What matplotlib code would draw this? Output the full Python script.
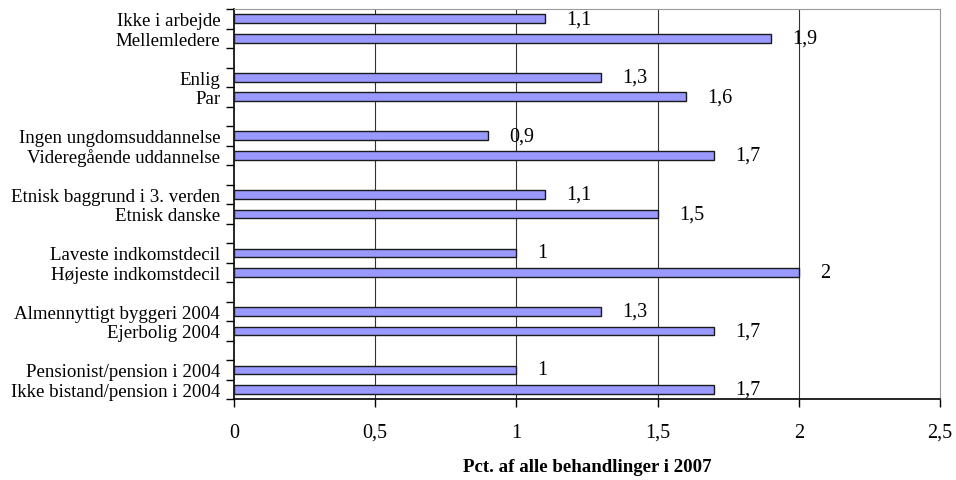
import numpy as np
import matplotlib.pyplot as plt

# top to bottom, pairs per group
categories = [
    ['Ikke i arbejde', 'Mellemledere'],
    ['Enlig', 'Par'],
    ['Ingen ungdomsuddannelse', 'Videregående uddannelse'],
    ['Etnisk baggrund i 3. verden', 'Etnisk danske'],
    ['Laveste indkomstdecil', 'Højeste indkomstdecil'],
    ['Almennyttigt byggeri 2004', 'Ejerbolig 2004'],
    ['Pensionist/pension i 2004', 'Ikke bistand/pension i 2004'],
]
values = [
    [1.1, 1.9],
    [1.3, 1.6],
    [0.9, 1.7],
    [1.1, 1.5],
    [1.0, 2.0],
    [1.3, 1.7],
    [1.0, 1.7],
]
xticks = [0, 0.5, 1, 1.5, 2, 2.5]
xlabel = 'Pct. af alle behandlinger i 2007'


def fmt(v):
    s = ('%.1f' % v).rstrip('0').rstrip('.')
    return s.replace('.', ',')


def main():
    plt.rcParams['font.family'] = ['Liberation Serif', 'DejaVu Serif']
    fig = plt.figure(figsize=(9.56, 4.81), dpi=100)
    ax = fig.add_axes([0.2448, 0.168, 0.7385, 0.811])

    labels, vals, pos = [], [], []
    slot = 0
    for g in range(len(categories)):
        for name, v in zip(categories[g], values[g]):
            labels.append(name)
            vals.append(v)
            pos.append(slot + 0.5)
            slot += 1
        slot += 1
    nslots = slot - 1

    fs = 13.6
    nfs = 14.5
    ax.barh(pos, vals, height=0.45, color='#9999FF', edgecolor='#1a1a1a',
            linewidth=1.0, zorder=3)
    for p, v in zip(pos, vals):
        ax.text(v + 0.075, p, fmt(v), ha='left', va='center', fontsize=nfs,
                zorder=4)

    ax.set_xlim(0, 2.5)
    ax.set_ylim(nslots, 0)
    ax.set_xticks(xticks)
    ax.set_xticklabels([fmt(t) for t in xticks], fontsize=nfs)
    ax.tick_params(axis='x', length=6, width=1, pad=11, direction='out')
    ax.set_yticks(pos)
    ax.set_yticklabels(labels, fontsize=fs)
    ax.tick_params(axis='y', length=0, pad=10)
    ax.set_yticks(np.arange(nslots + 1), minor=True)
    ax.tick_params(axis='y', which='minor', length=6, width=1)

    for t in xticks[1:-1]:
        ax.axvline(t, color='#333333', linewidth=0.8, zorder=1)
    for side in ['top', 'right']:
        ax.spines[side].set_color('#999999')
    ax.spines['left'].set_linewidth(1.2)
    ax.spines['bottom'].set_linewidth(1.2)

    ax.set_xlabel(xlabel, fontsize=fs, fontweight='bold', labelpad=12)
    fig.savefig('out.png', dpi=100)


if __name__ == '__main__':
    main()
